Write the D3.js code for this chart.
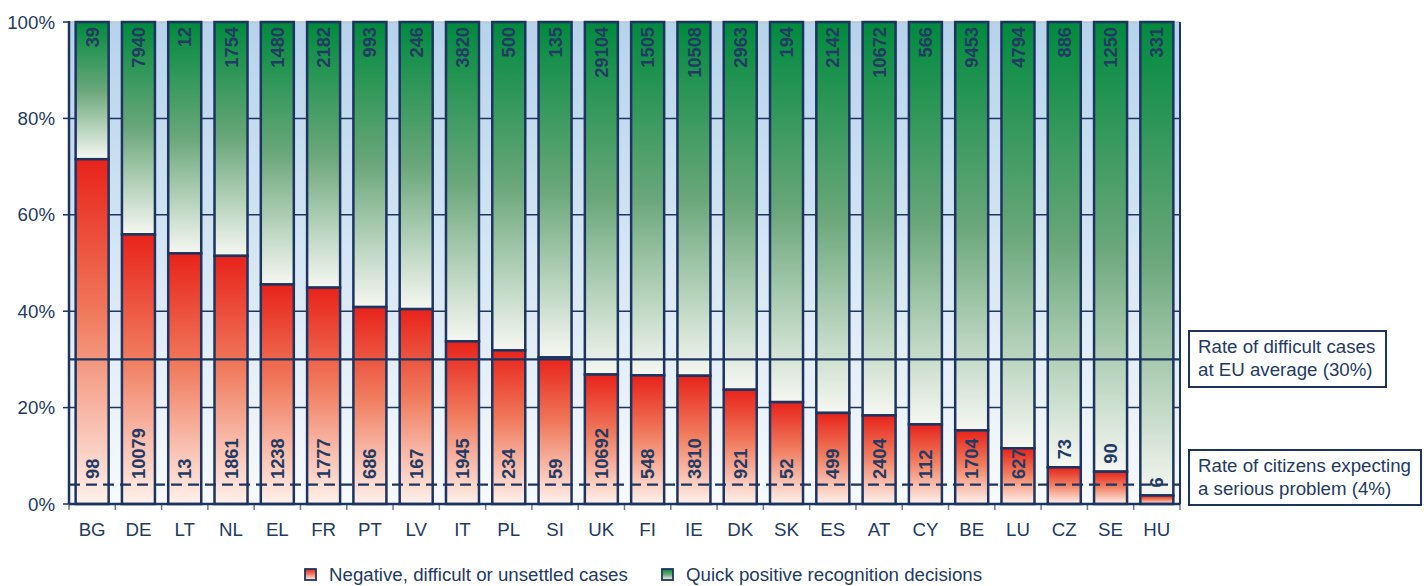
<!DOCTYPE html>
<html>
<head>
<meta charset="utf-8">
<script src="https://cdn.jsdelivr.net/npm/d3@7"></script>
<style>
  html, body { margin: 0; padding: 0; background: #ffffff; }
  svg { display: block; font-family: "Liberation Sans", Arial, sans-serif; }
</style>
</head>
<body>
<svg id="chart" width="1424" height="586"></svg>
<script>
// Member states, ordered by share of difficult cases
const countries = ["BG","DE","LT","NL","EL","FR","PT","LV","IT","PL","SI","UK","FI","IE","DK","SK","ES","AT","CY","BE","LU","CZ","SE","HU"];
// Negative, difficult or unsettled cases (count)
const difficult = [98,10079,13,1861,1238,1777,686,167,1945,234,59,10692,548,3810,921,52,499,2404,112,1704,627,73,90,6];
// Quick positive recognition decisions (count)
const quick = [39,7940,12,1754,1480,2182,993,246,3820,500,135,29104,1505,10508,2963,194,2142,10672,566,9453,4794,886,1250,331];
// Reference rates
const euAverage = 0.30;
const citizensExpecting = 0.04;
const yTicks = [0, 0.2, 0.4, 0.6, 0.8, 1.0];
const seriesNames = ["Negative, difficult or unsettled cases", "Quick positive recognition decisions"];

const navy = "#1d3461";
const textColor = "#233a63";
const fontSize = 18.7;

const svg = d3.select("#chart");
const plotLeft = 69, plotRight = 1180, plotTop = 22, plotBottom = 504;

const x = d3.scaleBand().domain(countries).range([plotLeft, plotRight])
  .paddingInner(0.287).paddingOuter(0.1435);
const y = d3.scaleLinear().domain([0, 1]).range([plotBottom, plotTop]);

const data = countries.map((c, i) => {
  const total = difficult[i] + quick[i];
  return { c, d: difficult[i], q: quick[i], share: difficult[i] / total };
});

// Gradients
const defs = svg.append("defs");
const bg = defs.append("linearGradient").attr("id", "bgGrad").attr("x1", 0).attr("y1", 0).attr("x2", 0).attr("y2", 1);
bg.append("stop").attr("offset", "0%").attr("stop-color", "#b6d3ec");
bg.append("stop").attr("offset", "100%").attr("stop-color", "#f7fafd");

const red = defs.append("linearGradient").attr("id", "redGrad").attr("x1", 0).attr("y1", 0).attr("x2", 0).attr("y2", 1);
red.append("stop").attr("offset", "0%").attr("stop-color", "#e8231b");
red.append("stop").attr("offset", "45%").attr("stop-color", "#f07a5c");
red.append("stop").attr("offset", "100%").attr("stop-color", "#fff1eb");

const green = defs.append("linearGradient").attr("id", "greenGrad").attr("x1", 0).attr("y1", 0).attr("x2", 0).attr("y2", 1);
green.append("stop").attr("offset", "0%").attr("stop-color", "#008a3e");
green.append("stop").attr("offset", "50%").attr("stop-color", "#6aa77a");
green.append("stop").attr("offset", "100%").attr("stop-color", "#f6f7f2");

// Plot background
svg.append("rect").attr("x", plotLeft).attr("y", plotTop)
  .attr("width", plotRight - plotLeft).attr("height", plotBottom - plotTop)
  .attr("fill", "url(#bgGrad)");

// Horizontal gridlines
svg.append("g").selectAll("line").data(yTicks.filter(t => t > 0 && t < 1)).join("line")
  .attr("x1", plotLeft).attr("x2", plotRight)
  .attr("y1", d => y(d)).attr("y2", d => y(d))
  .attr("stroke", navy).attr("stroke-width", 1.5);

// Top and right frame
svg.append("line").attr("x1", plotLeft).attr("x2", plotRight).attr("y1", plotTop).attr("y2", plotTop)
  .attr("stroke", "#b9c3cf").attr("stroke-width", 1.5);
svg.append("line").attr("x1", plotRight).attr("x2", plotRight).attr("y1", plotTop).attr("y2", plotBottom)
  .attr("stroke", navy).attr("stroke-width", 2);

// Bars
const bars = svg.append("g");
bars.selectAll("rect.q").data(data).join("rect").attr("class", "q")
  .attr("x", d => x(d.c)).attr("width", x.bandwidth())
  .attr("y", y(1)).attr("height", d => y(d.share) - y(1))
  .attr("fill", "url(#greenGrad)").attr("stroke", navy).attr("stroke-width", 2.5);
bars.selectAll("rect.d").data(data).join("rect").attr("class", "d")
  .attr("x", d => x(d.c)).attr("width", x.bandwidth())
  .attr("y", d => y(d.share)).attr("height", d => y(0) - y(d.share))
  .attr("fill", "url(#redGrad)").attr("stroke", navy).attr("stroke-width", 2.5);

// Reference lines
svg.append("line").attr("x1", plotLeft).attr("x2", plotRight)
  .attr("y1", y(euAverage)).attr("y2", y(euAverage))
  .attr("stroke", navy).attr("stroke-width", 2.2);
svg.append("line").attr("x1", plotLeft).attr("x2", plotRight)
  .attr("y1", y(citizensExpecting)).attr("y2", y(citizensExpecting))
  .attr("stroke", navy).attr("stroke-width", 2.2).attr("stroke-dasharray", "11,6");

// Count labels
const labels = svg.append("g").attr("fill", textColor)
  .attr("font-size", 18.3).attr("font-weight", "bold");
labels.selectAll("text.q").data(data).join("text").attr("class", "q")
  .attr("transform", d => `translate(${x(d.c) + x.bandwidth() / 2},${plotTop + 5}) rotate(-90)`)
  .attr("text-anchor", "end").attr("dy", "0.36em")
  .text(d => d.q);
labels.selectAll("text.d").data(data).join("text").attr("class", "d")
  .attr("text-anchor", "start").attr("dy", "0.36em")
  .text(d => d.d)
  .attr("transform", function(d) {
    const len = this.getComputedTextLength();
    const barTop = y(d.share);
    let base = plotBottom - 25;
    if (base - len < barTop) base = barTop - 8;
    return `translate(${x(d.c) + x.bandwidth() / 2},${base}) rotate(-90)`;
  });

// Y axis
const yAxis = svg.append("g");
yAxis.selectAll("line").data(yTicks).join("line")
  .attr("x1", plotLeft - 6).attr("x2", plotLeft)
  .attr("y1", d => y(d)).attr("y2", d => y(d))
  .attr("stroke", navy).attr("stroke-width", 1.5);
yAxis.selectAll("text").data(yTicks).join("text")
  .attr("x", 55).attr("y", d => y(d)).attr("dy", "0.35em")
  .attr("text-anchor", "end").attr("font-size", fontSize).attr("fill", textColor)
  .text(d => d3.format(".0%")(d));
svg.append("line").attr("x1", plotLeft).attr("x2", plotLeft).attr("y1", plotTop - 1).attr("y2", plotBottom + 1)
  .attr("stroke", navy).attr("stroke-width", 2.5);

// X axis
const xAxis = svg.append("g");
const edges = countries.map(c => x(c) - x.step() * 0.1435).concat([plotRight]);
xAxis.selectAll("line").data(edges).join("line")
  .attr("x1", d => d).attr("x2", d => d)
  .attr("y1", plotBottom).attr("y2", plotBottom + 6)
  .attr("stroke", "#6a7a94").attr("stroke-width", 1.5);
xAxis.selectAll("text").data(countries).join("text")
  .attr("x", d => x(d) + x.bandwidth() / 2).attr("y", 536)
  .attr("text-anchor", "middle").attr("font-size", fontSize).attr("fill", textColor)
  .text(d => d);
svg.append("line").attr("x1", plotLeft).attr("x2", plotRight).attr("y1", plotBottom).attr("y2", plotBottom)
  .attr("stroke", navy).attr("stroke-width", 2.5);

// Annotation boxes
function note(x0, y0, w, h, lines, baselines) {
  const g = svg.append("g");
  g.append("rect").attr("x", x0).attr("y", y0).attr("width", w).attr("height", h)
    .attr("fill", "#ffffff").attr("stroke", navy).attr("stroke-width", 2);
  g.selectAll("text").data(lines).join("text")
    .attr("x", x0 + 9).attr("y", (d, i) => baselines[i])
    .attr("font-size", fontSize).attr("fill", textColor).text(d => d);
}
note(1189, 331, 197, 56, ["Rate of difficult cases", "at EU average (30%)"], [353, 376]);
note(1189, 450, 232, 55, ["Rate of citizens expecting", "a serious problem (4%)"], [472, 495]);

// Legend
const legend = svg.append("g");
const items = [
  { name: seriesNames[0], fill: "url(#redGrad)", x: 305 },
  { name: seriesNames[1], fill: "url(#greenGrad)", x: 662 }
];
legend.selectAll("rect").data(items).join("rect")
  .attr("x", d => d.x).attr("y", 569).attr("width", 11).attr("height", 11)
  .attr("fill", d => d.fill).attr("stroke", navy).attr("stroke-width", 1.8);
legend.selectAll("text").data(items).join("text")
  .attr("x", d => d.x + 24).attr("y", 574).attr("dy", "0.35em")
  .attr("font-size", fontSize).attr("fill", textColor).text(d => d.name);
</script>
</body>
</html>
